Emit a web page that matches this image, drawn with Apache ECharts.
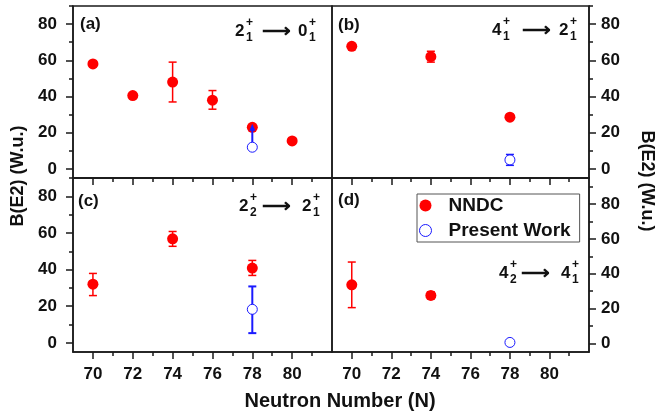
<!DOCTYPE html>
<html><head><meta charset="utf-8">
<script src="https://cdn.jsdelivr.net/npm/echarts@6/dist/echarts.min.js"></script>
<style>html,body{margin:0;padding:0;background:#fff}#c{width:656px;height:417px}</style>
</head><body><div id="c"></div>
<script>
// ---- data ----
const xMajorTicks = [70, 72, 74, 76, 78, 80];
const xMinorTicks = [71, 73, 75, 77, 79, 81];
const yMajorTicks = [0, 20, 40, 60, 80];
const yMinorTicks = [10, 30, 50, 70, 90];

// (a) 2+1 -> 0+1
const nA = [70, 72, 74, 76, 78, 80];
const nndcA = [58, 40.5, 48, 38, 23, 15.5];
const nndcErrA = [[74, 37, 59], [76, 33, 43.3]];
const pwNA = [78];
const pwA = [12];
const pwArrowA = [[78, 12, 25]];

// (b) 4+1 -> 2+1
const nB = [70, 74, 78];
const nndcB = [67.7, 62, 28.6];
const nndcErrB = [[74, 59, 65]];
const pwNB = [78];
const pwB = [5];
const pwErrB = [[78, 2, 8]];

// (c) 2+2 -> 2+1
const nC = [70, 74, 78];
const nndcC = [32, 56.8, 40.8];
const nndcErrC = [[70, 25.8, 37.9], [74, 52.7, 60.8], [78, 36.8, 45]];
const pwNC = [78];
const pwC = [18.3];
const pwErrC = [[78, 5.3, 30.8]];

// (d) 4+2 -> 4+1
const nD = [70, 74];
const nndcD = [33.6, 27.5];
const nndcErrD = [[70, 20.5, 46.7], [74, 25.5, 29.5]];
const pwND = [78];
const pwD = [0.5];

// ---- layout / style ----
const FONT = "'Liberation Sans', Arial, sans-serif";
const LINE = '#1a1a1a';
const RED = '#ff0000';
const BLUE = '#1a1aff';
const grids = [
  {left: 73, top: 6, width: 259, height: 172},
  {left: 332, top: 6, width: 257, height: 172},
  {left: 73, top: 178, width: 259, height: 174},
  {left: 332, top: 178, width: 257, height: 174}
];
const yRanges = [[-5, 90], [-5, 90], [-5, 90], [-5, 95]];
const ySide = ['left', 'right', 'left', 'right'];

const xAxes = [], yAxes = [];
grids.forEach((g, i) => {
  const showLab = i >= 2;
  xAxes.push({
    type: 'value', gridIndex: i, min: 69, max: 82, position: 'bottom',
    axisLine: {show: true, onZero: false, lineStyle: {color: LINE, width: 1.5}},
    axisTick: {show: true, length: 7, customValues: xMajorTicks, lineStyle: {color: LINE, width: 1.5}},
    axisLabel: {show: showLab, customValues: xMajorTicks, margin: 14,
      fontFamily: FONT, fontWeight: 'bold', fontSize: 17, color: '#111'},
    splitLine: {show: false}
  });
  xAxes.push({
    type: 'value', gridIndex: i, min: 69, max: 82, position: 'bottom',
    axisLine: {show: false, onZero: false},
    axisTick: {show: true, length: 4, customValues: xMinorTicks, lineStyle: {color: LINE, width: 1.5}},
    axisLabel: {show: false}, splitLine: {show: false}
  });
  const [ymin, ymax] = yRanges[i];
  const right = ySide[i] === 'right';
  yAxes.push({
    type: 'value', gridIndex: i, min: ymin, max: ymax, position: ySide[i],
    axisLine: {show: true, onZero: false, lineStyle: {color: LINE, width: 1.5}},
    axisTick: {show: true, length: 7, customValues: yMajorTicks, lineStyle: {color: LINE, width: 1.5}},
    axisLabel: {show: true, customValues: yMajorTicks, margin: right ? 12 : 16,
      fontFamily: FONT, fontWeight: 'bold', fontSize: 17, color: '#111'},
    splitLine: {show: false}
  });
  yAxes.push({
    type: 'value', gridIndex: i, min: ymin, max: ymax, position: ySide[i],
    axisLine: {show: false, onZero: false},
    axisTick: {show: true, length: 4, customValues: yMinorTicks.filter(v => v <= ymax), lineStyle: {color: LINE, width: 1.5}},
    axisLabel: {show: false}, splitLine: {show: false}
  });
});

function errBarSeries(gi, data, color, width) {
  return {
    type: 'custom', xAxisIndex: 2 * gi, yAxisIndex: 2 * gi, z: 1, silent: true,
    data: data,
    renderItem: function (params, api) {
      const x = api.value(0), lo = api.value(1), hi = api.value(2);
      const p1 = api.coord([x, lo]), p2 = api.coord([x, hi]);
      const w = 4;
      const st = {stroke: color, lineWidth: width};
      return {type: 'group', children: [
        {type: 'line', shape: {x1: p1[0], y1: p1[1], x2: p2[0], y2: p2[1]}, style: st},
        {type: 'line', shape: {x1: p1[0] - w, y1: p1[1], x2: p1[0] + w, y2: p1[1]}, style: st},
        {type: 'line', shape: {x1: p2[0] - w, y1: p2[1], x2: p2[0] + w, y2: p2[1]}, style: st}
      ]};
    }
  };
}
function arrowSeries(gi, data, color) {
  return {
    type: 'custom', xAxisIndex: 2 * gi, yAxisIndex: 2 * gi, z: 4, silent: true,
    data: data,
    renderItem: function (params, api) {
      const x = api.value(0), lo = api.value(1), hi = api.value(2);
      const p1 = api.coord([x, lo]), p2 = api.coord([x, hi]);
      return {type: 'group', children: [
        {type: 'line', shape: {x1: p1[0], y1: p1[1] - 5, x2: p2[0], y2: p2[1] + 5}, style: {stroke: color, lineWidth: 2}},
        {type: 'polygon', shape: {points: [[p2[0], p2[1]], [p2[0] - 3, p2[1] + 7], [p2[0] + 3, p2[1] + 7]]}, style: {fill: color}}
      ]};
    }
  };
}
function nndc(gi, xs, ys) {
  return {name: 'NNDC', type: 'scatter', xAxisIndex: 2 * gi, yAxisIndex: 2 * gi, z: 3,
    symbol: 'circle', symbolSize: 11, itemStyle: {color: RED, opacity: 1},
    data: xs.map((x, k) => [x, ys[k]])};
}
function pw(gi, xs, ys) {
  return {name: 'Present Work', type: 'scatter', xAxisIndex: 2 * gi, yAxisIndex: 2 * gi, z: 5,
    symbol: 'circle', symbolSize: 10, itemStyle: {color: '#fff', borderColor: BLUE, borderWidth: 1, opacity: 1},
    data: xs.map((x, k) => [x, ys[k]])};
}

const series = [
  errBarSeries(0, nndcErrA, RED, 1.5), nndc(0, nA, nndcA), pw(0, pwNA, pwA), arrowSeries(0, pwArrowA, BLUE),
  errBarSeries(1, nndcErrB, RED, 1.5), errBarSeries(1, pwErrB, BLUE, 1.5), nndc(1, nB, nndcB), pw(1, pwNB, pwB),
  errBarSeries(2, nndcErrC, RED, 1.5), errBarSeries(2, pwErrC, BLUE, 2), nndc(2, nC, nndcC), pw(2, pwNC, pwC),
  errBarSeries(3, nndcErrD, RED, 1.5), nndc(3, nD, nndcD), pw(3, pwND, pwD)
];

// ---- text annotations ----
const gfx = [];
function txt(x, y, s, size, opts) {
  gfx.push(Object.assign({type: 'text', x: x, y: y, z: 100, style: {text: s, fontFamily: FONT, fontWeight: 'bold', fontSize: size, fill: '#111', textVerticalAlign: 'middle', textAlign: 'left'}}, opts || {}));
}
function trans(x0, y, a, asub, arrowX, b, bx, bsub) {
  txt(x0, y, a, 17); txt(x0 + 11, y - 8, '+', 12); txt(x0 + 11, y + 7, asub, 12);
  txt(arrowX, y, '\u27F6', 20, {});
  txt(bx, y, b, 17); txt(bx + 11, y - 8, '+', 12); txt(bx + 11, y + 7, bsub, 12);
}
txt(80, 24, '(a)', 17); txt(338, 25, '(b)', 17); txt(78, 201, '(c)', 17); txt(338, 200, '(d)', 17);
trans(235, 31, '2', '1', 262, '0', 298, '1');
trans(492, 30, '4', '1', 522, '2', 559, '1');
trans(239, 206, '2', '2', 262, '2', 302, '1');
trans(499, 273, '4', '2', 521, '4', 561, '1');
gfx.push({type: 'text', x: 18, y: 176, rotation: Math.PI / 2, style: {text: 'B(E2) (W.u.)', fontFamily: FONT, fontWeight: 'bold', fontSize: 18, fill: '#111', textAlign: 'center', textVerticalAlign: 'middle'}});
gfx.push({type: 'text', x: 647, y: 181, rotation: -Math.PI / 2, style: {text: 'B(E2) (W.u.)', fontFamily: FONT, fontWeight: 'bold', fontSize: 18, fill: '#111', textAlign: 'center', textVerticalAlign: 'middle'}});
gfx.push({type: 'text', x: 340, y: 401, style: {text: 'Neutron Number (N)', fontFamily: FONT, fontWeight: 'bold', fontSize: 20, fill: '#111', textAlign: 'center', textVerticalAlign: 'middle'}});

const chart = echarts.init(document.getElementById('c'), null, {renderer: 'canvas'});
chart.setOption({
  animation: false,
  backgroundColor: '#fff',
  grid: grids.map(g => Object.assign({show: true, borderColor: LINE, borderWidth: 1.5, backgroundColor: 'transparent', containLabel: false}, g)),
  xAxis: xAxes, yAxis: yAxes,
  legend: {
    data: [{name: 'NNDC'}, {name: 'Present Work', itemStyle: {borderWidth: 1}}],
    orient: 'vertical', left: 417, top: 194,
    padding: [2, 9, 2, 2], itemGap: 6, itemWidth: 12, itemHeight: 12,
    borderColor: '#555', borderWidth: 1, backgroundColor: '#fff',
    textStyle: {fontFamily: FONT, fontWeight: 'bold', fontSize: 19, color: '#111', padding: [0, 0, 0, 12]},
    selectedMode: false
  },
  graphic: gfx,
  series: series
});
</script></body></html>
